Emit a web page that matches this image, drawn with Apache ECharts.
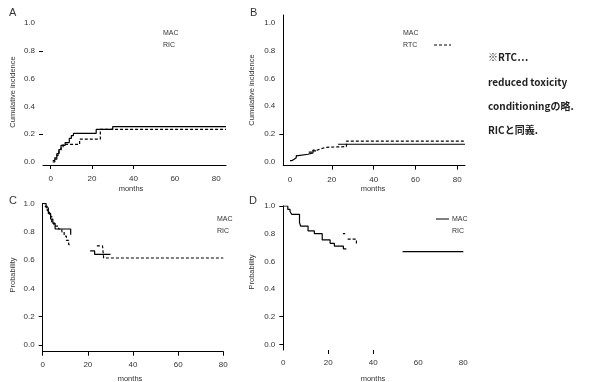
<!DOCTYPE html>
<html><head><meta charset="utf-8">
<script src="https://cdn.jsdelivr.net/npm/echarts@6/dist/echarts.min.js"></script>
<style>html,body{margin:0;padding:0;background:#fff}#c{width:600px;height:382px}</style>
</head><body><div id="c"></div>
<script>
// tick labels
const xTickLabels = [0, 20, 40, 60, 80];
const yTickLabels = [0, 0.2, 0.4, 0.6, 0.8, 1.0];
const seriesNames = ['MAC', 'RIC'];
const legendB = ['MAC', 'RTC'];
const noteLines = ['※RTC…', 'reduced toxicity', 'conditioningの略.', 'RICと同義.'];

// Panel A: cumulative incidence [month, value]
const aMAC = [[1,0.01],[2,0.03],[3,0.06],[4,0.09],[5,0.12],[7,0.14],[9,0.17],[10,0.19],[11,0.206],[22,0.235],[30,0.255],[84.7,0.255]];
const aRIC = [[1,0],[2,0.02],[3,0.05],[4,0.08],[5,0.10],[6,0.127],[14,0.165],[24,0.235],[84.7,0.235]];
// Panel B
const bMAC = [[0,0.01],[1,0.02],[2,0.03],[3,0.045],[4,0.055],[8.6,0.065],[11,0.08],[12.5,0.08],[12.5,'-'],[23,0.127],[83.7,0.127]];
const bRIC = [[9,0.07],[11,0.085],[13,0.095],[15,0.105],[17,0.11],[27,0.149],[83.7,0.149]];
// Panel C: probability
const cMAC = [[0,1],[1.5,0.97],[2.5,0.93],[3.5,0.89],[4.5,0.86],[5.5,0.82],[12.4,0.78],[12.4,'-'],[21,0.665],[23,0.64],[30,0.64]];
const cRIC = [[0,1],[1,0.98],[2,0.95],[3,0.91],[4,0.87],[5,0.84],[7,0.82],[8.5,0.80],[9.5,0.77],[10.5,0.74],[11.5,0.71],[12.5,0.71],[12.5,'-'],[24,0.70],[26.5,0.70],[27,0.615],[80,0.615]];
// Panel D
const dMAC = [[0,1],[2,0.975],[3,0.96],[3.7,0.94],[7.2,0.88],[7.7,0.855],[11,0.82],[13.8,0.80],[17.3,0.755],[20.8,0.73],[22.7,0.71],[26.7,0.69],[28,0.69],[28,'-'],[53,0.67],[80,0.67]];
const dRIC = [[26.5,0.80],[27.5,0.80],[27.5,'-'],[28.6,0.76],[32.5,0.72],[32.5,'-']];

const FONT = 'Liberation Sans';
const TXT = '#333';

function xAxis(grid, min, max, ticks, showLine, margin){
  return {type:'value', gridIndex:grid, min:min, max:max,
    axisLine:{show:showLine, onZero:false, lineStyle:{color:'#000', width:1}},
    axisTick:{show:true, length:4, customValues:ticks, lineStyle:{color:'#000'}},
    axisLabel:{customValues:xTickLabels, margin:margin, fontSize:8, fontFamily:FONT, color:TXT, formatter:v=>String(Math.round(v))},
    splitLine:{show:false}};
}
function yAxis(grid, min, max, ticks, showLine){
  return {type:'value', gridIndex:grid, min:min, max:max,
    axisLine:{show:showLine, onZero:false, lineStyle:{color:'#000', width:1}},
    axisTick:{show:true, length:4, customValues:ticks, lineStyle:{color:'#000'}},
    axisLabel:{customValues:yTickLabels, margin:8, fontSize:8, fontFamily:FONT, color:TXT, formatter:v=>v.toFixed(1)},
    splitLine:{show:false}};
}
function ser(name, data, idx, dashed){
  return {type:'line', name:name, data:data, xAxisIndex:idx, yAxisIndex:idx, step:'end',
    symbol:'none', showSymbol:false, connectNulls:false, silent:true, animation:false,
    lineStyle:{color:'#000', width:1.2, type: dashed ? [3,2] : 'solid'}};
}
function txt(x, y, text, size, opts){
  return Object.assign({type:'text', x:x, y:y, silent:true,
    style:{text:text, fontSize:size, fontFamily:FONT, fill:TXT, textAlign:'left', textVerticalAlign:'middle'}}, opts||{});
}
function vtxt(x, y, text){
  return {type:'text', x:x, y:y, rotation:Math.PI/2, silent:true,
    style:{text:text, fontSize:7.5, fontFamily:FONT, fill:TXT, textAlign:'center', textVerticalAlign:'middle'}};
}

const chart = echarts.init(document.getElementById('c'), null, {renderer:'canvas'});
const graphic = [
  txt(9, 13, 'A', 11, {}), txt(250, 13, 'B', 11, {}), txt(9, 201, 'C', 11, {}), txt(249, 201, 'D', 11, {}),
  vtxt(13, 92, 'Cumulative incidence'), vtxt(252, 90, 'Cumulative incidence'),
  vtxt(13, 275, 'Probability'), vtxt(252, 272, 'Probability'),
  txt(131, 189, 'months', 7.5, {style:{text:'months', fontSize:7.5, fontFamily:FONT, fill:TXT, textAlign:'center', textVerticalAlign:'middle'}}),
  txt(373, 189, 'months', 7.5, {style:{text:'months', fontSize:7.5, fontFamily:FONT, fill:TXT, textAlign:'center', textVerticalAlign:'middle'}}),
  txt(130, 379, 'months', 7.5, {style:{text:'months', fontSize:7.5, fontFamily:FONT, fill:TXT, textAlign:'center', textVerticalAlign:'middle'}}),
  txt(373, 379, 'months', 7.5, {style:{text:'months', fontSize:7.5, fontFamily:FONT, fill:TXT, textAlign:'center', textVerticalAlign:'middle'}}),
  // legends
  txt(163, 33, seriesNames[0], 7), txt(163, 45, seriesNames[1], 7),
  txt(403, 33, legendB[0], 7), txt(403, 45, legendB[1], 7),
  {type:'line', shape:{x1:434, y1:45, x2:451, y2:45}, style:{stroke:'#000', lineWidth:1, lineDash:[3,2]}, silent:true},
  txt(217, 219, seriesNames[0], 7), txt(217, 231, seriesNames[1], 7),
  {type:'line', shape:{x1:436, y1:219, x2:449, y2:219}, style:{stroke:'#000', lineWidth:1}, silent:true},
  txt(452, 219, seriesNames[0], 7), txt(452, 231, seriesNames[1], 7)
];
noteLines.forEach((t,i)=>{
  graphic.push({type:'text', x:488, y:[57,82,106,130][i], silent:true,
    style:{text:t, fontSize:10, fontWeight:'bold', fontFamily:'Noto Sans CJK JP', fill:'#222', textAlign:'left', textVerticalAlign:'middle'}});
});

chart.setOption({
  animation:false,
  backgroundColor:'#fff',
  grid:[
    {left:43, top:23, width:183, height:142},
    {left:283.3, top:15, width:181.7, height:150.7},
    {left:42.7, top:203.5, width:180.6, height:148.2},
    {left:283.3, top:206, width:180, height:144}
  ],
  xAxis:[
    xAxis(0, -3.7, 84.7, [0,20,40], true, 10),
    xAxis(1, -3.2, 83.7, [20,40,60,80], true, 10),
    xAxis(2, 0, 80, [0,20,40,60,80], true, 9),
    xAxis(3, 0, 80, [20,40], false, 9)
  ],
  yAxis:[
    yAxis(0, -0.0216, 1.0, [0.2,0.8], false),
    yAxis(1, -0.027, 1.055, [0.2], true),
    yAxis(2, -0.047, 1.0, [0,0.2], true),
    yAxis(3, -0.041, 1.0, [0,0.2,1.0], true)
  ],
  series:[
    ser('MAC', aMAC, 0, false), ser('RIC', aRIC, 0, true),
    ser('MAC', bMAC, 1, false), ser('RTC', bRIC, 1, true),
    ser('MAC', cMAC, 2, false), ser('RIC', cRIC, 2, true),
    ser('MAC', dMAC, 3, false), ser('RIC', dRIC, 3, true)
  ],
  graphic: graphic
});
</script></body></html>
